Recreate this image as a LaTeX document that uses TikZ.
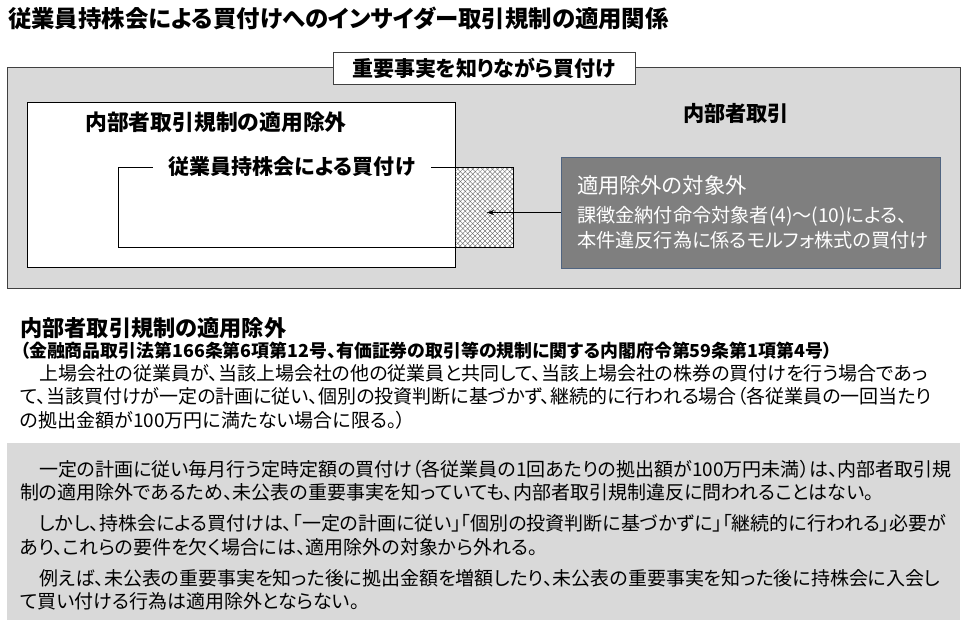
\documentclass[tikz,border=0pt]{standalone}
\usepackage{fontspec}
\setmainfont{Noto Sans CJK JP}[RawFeature=+palt]
\usetikzlibrary{patterns.meta,arrows.meta}
\definecolor{panelgray}{RGB}{217,217,217}
\definecolor{boxgray}{RGB}{127,127,127}
\definecolor{boxedge}{RGB}{80,100,128}
\newcommand{\fs}[1]{\fontsize{#1}{#1}\selectfont}
\begin{document}
\begin{tikzpicture}[x=1pt,y=-1pt,
    txt/.style={inner sep=0pt,anchor=west},
    para/.style={inner sep=0pt,anchor=north west,align=left,font=\fontsize{19}{23.5}\selectfont},
    hatch/.style={pattern={Lines[angle=#1,distance=3.5pt,line width=0.35pt]},pattern color=black!65}]
  \useasboundingbox (0,0) rectangle (970,627);
  \node[txt,font=\fs{23.4}\bfseries] (title) at (8,18) {従業員持株会による買付けへのインサイダー取引規制の適用関係};
  \draw[black!75,fill=panelgray] (7,67) rectangle (960,288);
  \node[draw=black!75,fill=white,minimum width=302pt,minimum height=32pt,inner sep=0pt,font=\fs{21}\bfseries] (known) at (484,68) {重要事実を知りながら買付け};
  \draw[fill=white] (27,102) rectangle (455,267);
  \fill[white] (455.5,167) rectangle (513,247);
  \fill[hatch=45] (455.5,167) rectangle (513,247);
  \fill[hatch=-45] (455.5,167) rectangle (513,247);
  \draw (118,167) rectangle (513,247);
  \node[inner sep=0pt,font=\fs{21.8}\bfseries] (exemptbox) at (216,122) {内部者取引規制の適用除外};
  \node[fill=white,inner xsep=16pt,inner ysep=2pt,font=\fs{21}\bfseries] (esop) at (292,167) {従業員持株会による買付け};
  \node[inner sep=0pt,font=\fs{21.2}\bfseries] (insider) at (736,113) {内部者取引};
  \node[draw=boxedge,fill=boxgray,text=white,minimum width=379pt,minimum height=111pt,inner xsep=16pt,
    text width=347pt,align=left,font=\fontsize{19.2}{25}\selectfont] (outside) at (750.5,212.5)
    {{\fs{21.3}適用除外の対象外}\\[4pt]課徴金納付命令対象者(4)～(10)による、\\本件違反行為に係るモルフォ株式の買付け};
  \coordinate (hatchmid) at (487,212.5);
  \draw[-{Stealth[length=7pt,width=5pt]}] (outside.west) -- (hatchmid);
  \node[txt,font=\fs{22.2}\bfseries] (exempt) at (20,328) {内部者取引規制の適用除外};
  \node[txt,font=\fs{17.9}\bfseries] (basis) at (20,351) {（金融商品取引法第166条第6項第12号、有価証券の取引等の規制に関する内閣府令第59条第1項第4号）};
  \node[para] (rule) at (20,364) {　上場会社の従業員が、当該上場会社の他の従業員と共同して、当該上場会社の株券の買付けを行う場合であっ\\て、当該買付けが一定の計画に従い、個別の投資判断に基づかず、継続的に行われる場合（各従業員の一回当たり\\の拠出金額が100万円に満たない場合に限る。）};
  \fill[panelgray] (7,443) rectangle (960,620);
  \node[para] (note) at (20,460) {　一定の計画に従い毎月行う定時定額の買付け（各従業員の1回あたりの拠出額が100万円未満）は、内部者取引規\\制の適用除外であるため、未公表の重要事実を知っていても、内部者取引規制違反に問われることはない。\\[7.5pt]　しかし、持株会による買付けは、「一定の計画に従い」「個別の投資判断に基づかずに」「継続的に行われる」必要が\\あり、これらの要件を欠く場合には、適用除外の対象から外れる。\\[7.5pt]　例えば、未公表の重要事実を知った後に拠出金額を増額したり、未公表の重要事実を知った後に持株会に入会し\\て買い付ける行為は適用除外とならない。};
\end{tikzpicture}
\end{document}
